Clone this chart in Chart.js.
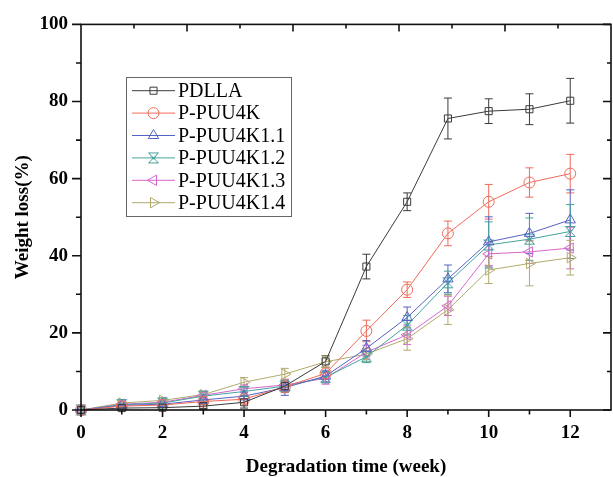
<!DOCTYPE html>
<html><head><meta charset="utf-8">
<script src="https://cdn.jsdelivr.net/npm/chart.js@4.4.0/dist/chart.umd.min.js"></script>
<style>html,body{margin:0;padding:0;background:#fff}canvas{display:block}</style>
</head><body>
<canvas id="c" width="613" height="477"></canvas>
<script>
// ---- data ----
const weeks = [0,1,2,3,4,5,6,7,8,9,10,11,12];
const seriesNames = ['PDLLA','P-PUU4K','P-PUU4K1.1','P-PUU4K1.2','P-PUU4K1.3','P-PUU4K1.4'];
const pdlla      = [0,0.5,0.6,1.0,2.0,6.2,12.6,37.2,54.0,75.6,77.5,78.0,80.2];
const pdllaErr   = [0,0.4,0.5,0.6,1.5,1.5,1.5,3.2,2.3,5.3,3.2,4.0,5.8];
const puu4k      = [0,1.0,1.3,2.2,2.8,6.0,9.5,20.5,31.2,45.8,54.0,59.0,61.3];
const puu4kErr   = [0,0.5,0.6,0.8,1.0,1.5,1.5,2.8,2.0,3.2,4.5,3.8,5.0];
const puu4k11    = [0,1.2,1.5,2.6,3.6,5.8,8.8,16.0,24.0,34.0,43.6,45.8,49.3];
const puu4k11Err = [0,0.5,0.6,0.8,1.0,2.0,1.5,2.0,2.7,3.6,6.5,5.2,7.8];
const puu4k12    = [0,1.4,1.8,3.6,4.8,6.2,8.5,13.8,22.0,33.0,42.8,44.3,46.3];
const puu4k12Err = [0,0.5,0.6,0.8,1.0,1.5,1.5,1.5,2.5,3.0,6.0,5.5,7.0];
const puu4k13    = [0,1.5,2.0,3.8,5.5,6.5,8.2,15.0,19.5,27.0,40.5,41.0,42.0];
const puu4k13Err = [0,0.5,0.6,0.8,1.0,1.5,1.5,1.8,2.5,2.5,3.0,3.0,5.4];
const puu4k14    = [0,1.8,2.5,4.0,7.2,9.3,12.5,14.5,18.5,26.0,36.3,38.0,39.5];
const puu4k14Err = [0,0.6,0.7,0.8,1.2,1.5,1.5,1.5,3.0,3.8,3.5,5.8,4.5];
const xTickLabels = [0,2,4,6,8,10,12];
const yTickLabels = [0,20,40,60,80,100];

const FONT = "'Liberation Serif','Times New Roman',serif";

function hourglass(color){
  const c=document.createElement('canvas'); c.width=13; c.height=13;
  const g=c.getContext('2d'); g.strokeStyle=color; g.lineWidth=1;
  g.beginPath(); g.moveTo(1.5,1.5); g.lineTo(11.5,1.5); g.lineTo(1.5,11.5); g.lineTo(11.5,11.5); g.closePath(); g.stroke();
  g.beginPath(); g.moveTo(3.5,3.5); g.lineTo(6.5,8); g.lineTo(9.5,3.5); g.stroke();
  return c;
}

const colors = ['#3a3a3a','#f06a5a','#5563c6','#45a39c','#d466cc','#b2aa6c'];
const values = [pdlla,puu4k,puu4k11,puu4k12,puu4k13,puu4k14];
const errs = [pdllaErr,puu4kErr,puu4k11Err,puu4k12Err,puu4k13Err,puu4k14Err];
const styles = [
  {pointStyle:'rect', rot:0, r:5},
  {pointStyle:'circle', rot:0, r:5.5},
  {pointStyle:'triangle', rot:0, r:6},
  {pointStyle:hourglass(colors[3]), rot:0, r:6},
  {pointStyle:'triangle', rot:-90, r:6},
  {pointStyle:'triangle', rot:90, r:6}
];

const datasets = seriesNames.map((name,i)=>({
  label:name,
  data: weeks.map((w,j)=>({x:w,y:values[i][j]})),
  errors: errs[i],
  borderColor: colors[i],
  backgroundColor: 'rgba(0,0,0,0)',
  borderWidth: 1,
  pointStyle: styles[i].pointStyle,
  pointRotation: styles[i].rot,
  pointRadius: styles[i].r,
  pointBorderWidth: 1,
  pointBackgroundColor: 'rgba(0,0,0,0)',
  pointBorderColor: colors[i],
  tension: 0,
  clip: 12
}));

const errorBars = {
  id:'errorBars',
  beforeDatasetsDraw(chart){
    const {ctx, scales:{x,y}} = chart;
    chart.data.datasets.forEach(ds=>{
      ctx.save(); ctx.strokeStyle = ds.borderColor; ctx.lineWidth = 1;
      ds.data.forEach((p,j)=>{
        const e = ds.errors[j]; if(!e) return;
        const px = x.getPixelForValue(p.x), t = y.getPixelForValue(p.y+e), b = y.getPixelForValue(Math.max(0,p.y-e));
        ctx.beginPath();
        ctx.moveTo(px,t); ctx.lineTo(px,b);
        ctx.moveTo(px-4,t); ctx.lineTo(px+4,t);
        ctx.moveTo(px-4,b); ctx.lineTo(px+4,b);
        ctx.stroke();
      });
      ctx.restore();
    });
  }
};

const frame = {
  id:'frame',
  afterDatasetsDraw(chart){
    const {ctx, chartArea:a, scales:{x,y,xt}} = chart;
    ctx.save(); ctx.strokeStyle='#111'; ctx.lineWidth=1.6;
    ctx.strokeRect(a.left,a.top,a.right-a.left,a.bottom-a.top);
    ctx.beginPath();
    for(let v=0; v<=12; v++){
      const px=x.getPixelForValue(v), L = v%2===0?7:4.5;
      ctx.moveTo(px,a.bottom); ctx.lineTo(px,a.bottom+L);
    }
    for(let v=0; v<=100; v+=10){
      const py=y.getPixelForValue(v), L = v%20===0?9:5;
      ctx.moveTo(a.left,py); ctx.lineTo(a.left-L,py);
      ctx.moveTo(a.right,py); ctx.lineTo(a.right-L+1,py);
    }
    for(let v=1; v<10; v++){
      const px=xt.getPixelForValue(v), L = v%2===0?7:4;
      ctx.moveTo(px,a.top); ctx.lineTo(px,a.top+L);
    }
    ctx.stroke(); ctx.restore();
  }
};

const legendBox = {
  id:'legendBox',
  afterDraw(chart){
    const ctx = chart.ctx;
    const bx=126, by=77, bw=165, bh=139;
    ctx.save();
    ctx.strokeStyle='#666'; ctx.lineWidth=1;
    ctx.strokeRect(bx+0.5,by+0.5,bw,bh);
    chart.data.datasets.forEach((ds,i)=>{
      const cy = by + 13.7 + i*22.4;
      ctx.strokeStyle = ds.borderColor; ctx.lineWidth = 1;
      ctx.beginPath(); ctx.moveTo(bx+6,cy); ctx.lineTo(bx+49,cy); ctx.stroke();
      ctx.fillStyle='rgba(0,0,0,0)';
      Chart.helpers.drawPoint(ctx,{pointStyle:ds.pointStyle,rotation:ds.pointRotation,radius:ds.pointRadius,borderWidth:1},bx+27.5,cy);
      ctx.fillStyle='#000'; ctx.font = "20px "+FONT; ctx.textBaseline='middle'; ctx.textAlign='left';
      ctx.fillText(ds.label,bx+52,cy+1);
    });
    ctx.restore();
  }
};

new Chart(document.getElementById('c'),{
  type:'line',
  data:{datasets},
  options:{
    responsive:false, animation:false,
    layout:{autoPadding:false, padding:{top:21,right:2,left:0,bottom:0}},
    plugins:{legend:{display:false}, tooltip:{enabled:false}},
    scales:{
      x:{type:'linear', min:0, max:13, position:'bottom',
        grid:{display:false, drawTicks:false}, border:{display:false},
        ticks:{stepSize:1, autoSkip:false, maxRotation:0, padding:12, color:'#000',
          font:{family:FONT, size:19, weight:'bold'},
          callback:v=> xTickLabels.includes(v) ? String(v) : ''},
        title:{display:true, text:'Degradation time (week)', color:'#000',
          font:{family:FONT, size:19, weight:'bold', lineHeight:1}, padding:{top:0,bottom:0}},
        afterFit:s=>{s.height=67; s.paddingRight=0; s.paddingLeft=0;}
      },
      xt:{type:'linear', min:0, max:10, position:'top', display:false,
        grid:{display:false, drawTicks:false}, ticks:{display:false, stepSize:1},
        afterFit:s=>{s.height=0; s.paddingRight=0; s.paddingLeft=0;}
      },
      y:{type:'linear', min:0, max:100, position:'left',
        grid:{display:false, drawTicks:false}, border:{display:false},
        ticks:{stepSize:10, autoSkip:false, padding:13, color:'#000',
          font:{family:FONT, size:19, weight:'bold'},
          callback:v=> yTickLabels.includes(v) ? String(v) : ''},
        title:{display:true, text:'Weight loss(%)', color:'#000',
          font:{family:FONT, size:19, weight:'bold', lineHeight:1}, padding:{top:13.5,bottom:0}},
        afterFit:s=>{s.width=81;}
      }
    }
  },
  plugins:[errorBars, frame, legendBox]
});
</script>
</body></html>
